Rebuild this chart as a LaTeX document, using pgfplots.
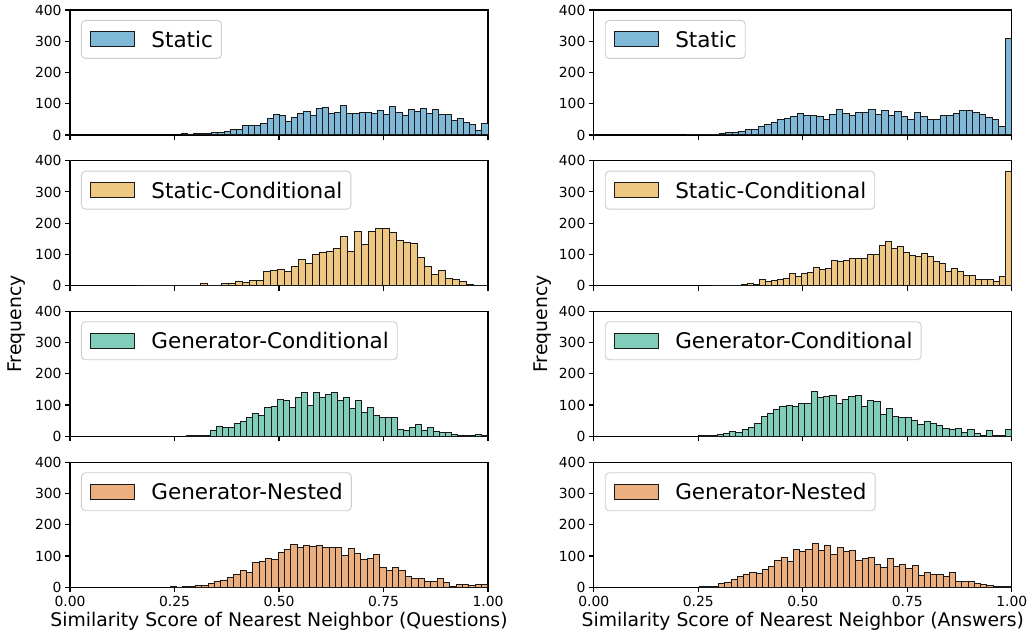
\documentclass[border=0pt]{standalone}
\usepackage{fontspec}
\setmainfont{DejaVu Sans}
\usepackage{pgfplots}
\usepackage{pgfplotstable}
\pgfplotsset{compat=1.18}

\definecolor{cstat}{RGB}{128,185,216}
\definecolor{cstatc}{RGB}{238,199,130}
\definecolor{cgenc}{RGB}{128,206,185}
\definecolor{cgenn}{RGB}{234,174,127}

% bin counts, 50 bins per panel (q = questions, a = answers)
\pgfplotstableread{
sq sa scq sca gcq gca gnq gna
5 1 1 1 1 2 1 1
2 1 0 1 3 1 0 1
4 0 0 1 2 1 2 3
5 2 0 2 4 5 4 12
5 3 0 1 17 10 5 15
7 4 0 3 30 15 6 25
8 8 1 6 28 12 13 33
12 9 1 5 28 22 20 40
18 10 0 19 40 29 21 47
18 19 6 13 47 42 30 44
30 19 1 18 60 62 41 57
30 27 2 21 73 73 54 68
30 35 6 22 68 86 48 87
36 40 6 40 91 94 79 96
54 50 13 28 96 98 83 84
65 53 10 38 118 94 92 121
61 58 17 41 116 104 88 115
43 68 17 58 93 104 110 120
56 62 44 51 125 142 121 141
70 61 50 55 140 124 136 117
75 60 52 82 100 127 128 134
61 51 47 77 140 129 134 106
84 66 62 82 123 104 130 127
89 82 83 86 134 118 133 115
69 68 70 86 140 127 127 117
73 63 99 88 113 132 127 85
93 72 106 101 125 95 127 92
70 72 110 101 90 115 103 95
70 80 120 128 113 110 125 74
73 67 157 140 77 70 108 64
72 78 109 119 93 90 89 93
68 61 174 127 67 62 92 65
78 75 132 107 60 61 104 72
66 59 174 97 59 60 64 61
91 49 183 92 60 50 55 71
73 72 182 102 22 38 62 37
61 60 171 92 17 48 54 47
81 51 144 78 27 42 36 42
75 48 139 70 37 33 29 40
84 62 134 45 18 26 29 34
70 62 91 56 27 22 17 47
80 69 62 45 14 24 19 18
65 78 37 32 12 11 28 20
64 78 48 32 12 23 14 17
46 72 23 19 6 9 3 13
54 66 20 19 2 2 9 10
40 57 12 19 1 18 8 5
33 50 4 14 1 2 6 2
13 28 1 28 5 2 8 2
37 310 1 367 1 23 10 2
}\histdata

\pgfplotsset{
  panel/.style={
    scale only axis, width=418pt, height=125pt,
    xmin=0, xmax=1, ymin=0, ymax=400,
    xtick={0,0.25,0.5,0.75,1}, ytick={0,100,200,300,400},
    tick align=outside, tick pos=left, major tick length=4.9pt,
    axis line style={line width=1.1pt},
    every tick/.style={black, line width=1.1pt},
    tick label style={font=\fontsize{13.9}{16}\selectfont},
    /pgf/number format/assume math mode=true,
    xticklabels={,,,,},
    legend cell align=left,
    legend style={at={(axis description cs:0.0263,0.92)}, anchor=north west,
      draw=black!20, line width=0.9pt, rounded corners=4pt, fill=white,
      font=\fontsize{21.5}{25}\selectfont,
      inner xsep=8.5pt, inner ysep=10.75pt, column sep=16.5pt,
      nodes={inner xsep=0pt, inner ysep=0pt, text height=16.5pt, text depth=0pt}},
  },
  bottom/.style={xticklabel={\pgfmathprintnumber[fixed,fixed zerofill,precision=2]{\tick}}},
  bars/.style={ybar, bar width=#1, draw=black!90, line width=1pt,
    legend image code/.code={\draw[##1, sharp corners] (0pt,-7.5pt) rectangle (44pt,7.5pt);}},
}

\begin{document}
\begin{tikzpicture}
\path[use as bounding box] (0pt,0pt) rectangle (1029pt,632pt);

% row 1
\begin{axis}[panel, at={(70pt,497pt)}, anchor=south west]
\addplot[bars=0.01469, fill=cstat] table[x expr=0.2657+(\coordindex+0.5)*0.01469, y=sq]{\histdata};
\addlegendentry{Static}
\end{axis}
\begin{axis}[panel, at={(593.8pt,497pt)}, anchor=south west]
\addplot[bars=0.01556, fill=cstat] table[x expr=0.222+(\coordindex+0.5)*0.01556, y=sa]{\histdata};
\addlegendentry{Static}
\end{axis}

% row 2
\begin{axis}[panel, at={(70pt,346.3pt)}, anchor=south west]
\addplot[bars=0.01676, fill=cstatc] table[x expr=0.162+(\coordindex+0.5)*0.01676, y=scq]{\histdata};
\addlegendentry{Static-Conditional}
\end{axis}
\begin{axis}[panel, at={(593.8pt,346.3pt)}, anchor=south west]
\addplot[bars=0.01436, fill=cstatc] table[x expr=0.282+(\coordindex+0.5)*0.01436, y=sca]{\histdata};
\addlegendentry{Static-Conditional}
\end{axis}

% row 3
\begin{axis}[panel, at={(70pt,195.7pt)}, anchor=south west]
\addplot[bars=0.01442, fill=cgenc] table[x expr=0.279+(\coordindex+0.5)*0.01442, y=gcq]{\histdata};
\addlegendentry{Generator-Conditional}
\end{axis}
\begin{axis}[panel, at={(593.8pt,195.7pt)}, anchor=south west]
\addplot[bars=0.015, fill=cgenc] table[x expr=0.25+(\coordindex+0.5)*0.015, y=gca]{\histdata};
\addlegendentry{Generator-Conditional}
\end{axis}

% row 4
\begin{axis}[panel, bottom, at={(70pt,44.7pt)}, anchor=south west]
\addplot[bars=0.01521, fill=cgenn] table[x expr=0.2394+(\coordindex+0.5)*0.01521, y=gnq]{\histdata};
\addlegendentry{Generator-Nested}
\end{axis}
\begin{axis}[panel, bottom, at={(593.8pt,44.7pt)}, anchor=south west]
\addplot[bars=0.01492, fill=cgenn] table[x expr=0.254+(\coordindex+0.5)*0.01492, y=gna]{\histdata};
\addlegendentry{Generator-Nested}
\end{axis}

\node[rotate=90, anchor=base, font=\fontsize{18.8}{22}\selectfont] at (21pt,308pt) {Frequency};
\node[rotate=90, anchor=base, font=\fontsize{18.8}{22}\selectfont] at (547pt,308pt) {Frequency};
\node[anchor=base, font=\fontsize{18.8}{22}\selectfont] at (279pt,5.5pt) {Similarity Score of Nearest Neighbor (Questions)};
\node[anchor=base, font=\fontsize{18.8}{22}\selectfont] at (802.8pt,5.5pt) {Similarity Score of Nearest Neighbor (Answers)};
\end{tikzpicture}
\end{document}
